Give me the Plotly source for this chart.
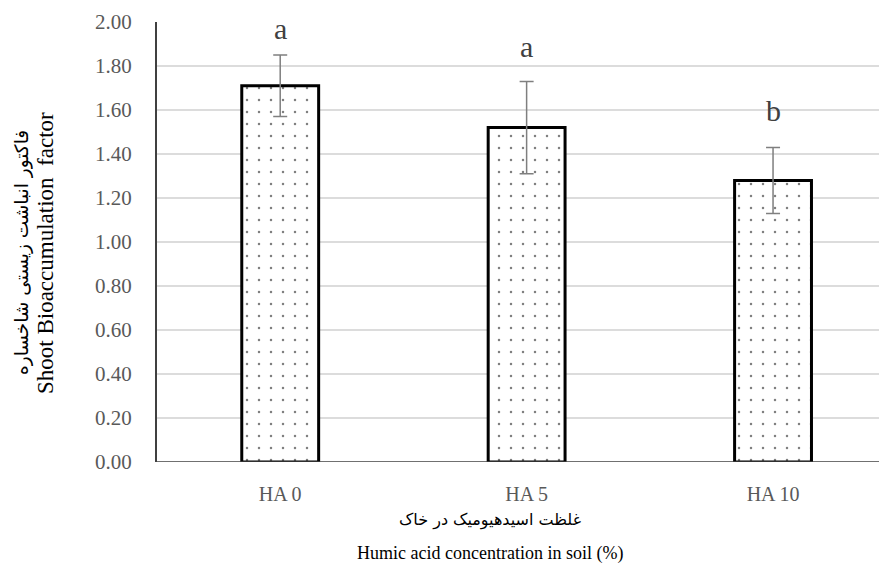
import plotly.graph_objects as go

categories = ["HA 0", "HA 5", "HA 10"]
values = [1.71, 1.52, 1.28]
errors = [0.14, 0.21, 0.15]
letters = ["a", "a", "b"]
y_ticks = [0.0, 0.2, 0.4, 0.6, 0.8, 1.0, 1.2, 1.4, 1.6, 1.8, 2.0]
x_title_fa = "غلظت اسیدهیومیک در خاک"
x_title_en = "Humic acid concentration in soil (%)"
y_title_fa = "فاکتور انباشت زیستی شاخساره"
y_title_en = "Shoot Bioaccumulation  factor"

serif = "Liberation Serif, Times New Roman, DejaVu Serif, serif"
OFF = 8  # page body margin in the browser
W, H = 887 - OFF, 576 - OFF
L, R, T = 157 - OFF, 0, 22 - OFF
ph = 440
B = H - T - ph
pw = W - L - R
bottom_px = 462  # window coordinate of the plot bottom

fig = go.Figure()
fig.add_trace(go.Bar(
    x=list(range(len(categories))),
    y=values,
    width=0.312,
    marker=dict(
        color="white",
        line=dict(color="black", width=3),
        pattern=dict(shape=".", fgcolor="black", bgcolor="white", size=12, solidity=0.035),
    ),
    error_y=dict(type="data", array=errors, visible=True, color="#7f7f7f", thickness=1.5, width=7),
    showlegend=False,
))

letter_shift = [8, 16, 18]
for i, (v, e, l) in enumerate(zip(values, errors, letters)):
    fig.add_annotation(x=i, y=v + e, text=l, showarrow=False, yanchor="bottom", yshift=letter_shift[i],
                       font=dict(family=serif, size=30, color="#404040"))

# x-axis titles
cx = (490 - 157) / pw
fig.add_annotation(xref="paper", yref="paper", x=cx, y=-(520 - bottom_px) / ph, text=x_title_fa,
                   showarrow=False, yanchor="middle", font=dict(family="DejaVu Sans, serif", size=16, color="black"))
fig.add_annotation(xref="paper", yref="paper", x=cx, y=-(553 - bottom_px) / ph, text=x_title_en,
                   showarrow=False, yanchor="middle", font=dict(family=serif, size=18, color="black"))
# y-axis titles
cy = (bottom_px - 253) / ph
fig.add_annotation(xref="paper", yref="paper", x=-(157 - 22) / pw, y=cy, text=y_title_fa, textangle=-90,
                   showarrow=False, xanchor="center", yanchor="middle",
                   font=dict(family="DejaVu Sans, serif", size=18.5, color="black"))
fig.add_annotation(xref="paper", yref="paper", x=-(157 - 45) / pw, y=cy, text=y_title_en, textangle=-90,
                   showarrow=False, xanchor="center", yanchor="middle",
                   font=dict(family=serif, size=23, color="black"))

fig.update_layout(
    width=W, height=H,
    margin=dict(l=L, r=R, t=T, b=B, autoexpand=False),
    plot_bgcolor="white", paper_bgcolor="white",
    xaxis=dict(
        range=[-0.5, (887 - 280) / 246.5], automargin=False,
        tickvals=list(range(len(categories))), ticktext=categories,
        showgrid=False, zeroline=False, showline=False, ticks="", ticklabelstandoff=18,
        tickfont=dict(family=serif, size=20, color="#595959"),
    ),
    yaxis=dict(
        range=[0, 2.0], tickvals=y_ticks, ticktext=[f"{t:.2f}" for t in y_ticks], automargin=False,
        showgrid=True, gridcolor="#dcdcdc", gridwidth=1.5, zeroline=False,
        showline=True, linecolor="#404040", linewidth=2, ticks="", ticklabelstandoff=19,
        tickfont=dict(family=serif, size=21, color="#595959"),
    ),
)
fig.add_shape(type="line", xref="paper", yref="y", x0=0, x1=1, y0=0, y1=0,
              line=dict(color="#404040", width=1.5))

fig.write_html("out.html")
